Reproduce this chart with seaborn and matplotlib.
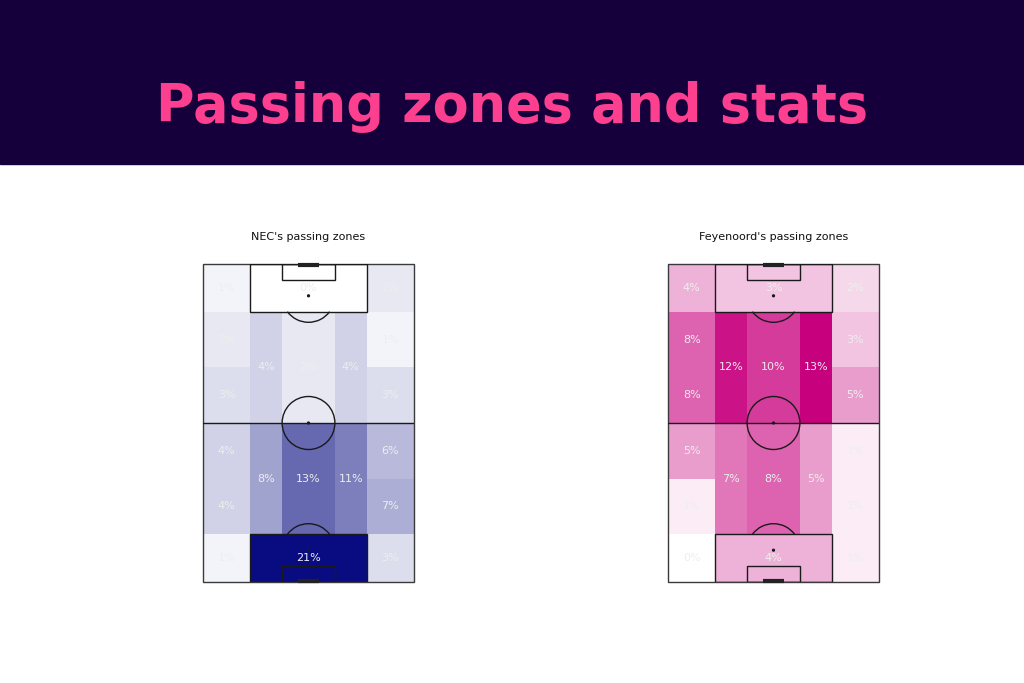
import numpy as np
import pandas as pd
import matplotlib
matplotlib.use("Agg")
import matplotlib.pyplot as plt
import seaborn as sns
from matplotlib.colors import LinearSegmentedColormap
from matplotlib.patches import Rectangle, Arc, Circle

# ---------------- data ----------------
team_names = ["NEC", "Feyenoord"]
# zone edges on a 120 x 80 yard pitch (length from own goal, width from left touchline)
len_edges = [0, 18, 39, 60, 81, 102, 120]
wid_edges = [0, 18, 30, 50, 62, 80]

# percentages of passes; wing rows go from own goal (bottom) to opponent goal (top)
nec_left_wing = [1, 4, 4, 3, 2, 1]
nec_right_wing = [3, 7, 6, 3, 1, 2]
nec_inner_own_half = [8, 13, 11]     # left half-space, centre, right half-space
nec_inner_opp_half = [4, 2, 4]
nec_boxes = [21, 0]                  # own box, opponent box

fey_left_wing = [0, 1, 5, 8, 8, 4]
fey_right_wing = [1, 1, 1, 5, 3, 2]
fey_inner_own_half = [7, 8, 5]
fey_inner_opp_half = [12, 10, 13]
fey_boxes = [4, 3]

team_colors = ["#080c80", "#c7007d"]


def build_zones(left, right, inner_own, inner_opp, boxes):
    zones = []
    for i in range(6):
        zones.append((wid_edges[0], wid_edges[1], len_edges[i], len_edges[i + 1], left[i]))
        zones.append((wid_edges[4], wid_edges[5], len_edges[i], len_edges[i + 1], right[i]))
    for j in range(3):
        zones.append((wid_edges[j + 1], wid_edges[j + 2], len_edges[1], len_edges[3], inner_own[j]))
        zones.append((wid_edges[j + 1], wid_edges[j + 2], len_edges[3], len_edges[5], inner_opp[j]))
    zones.append((wid_edges[1], wid_edges[4], len_edges[0], len_edges[1], boxes[0]))
    zones.append((wid_edges[1], wid_edges[4], len_edges[5], len_edges[6], boxes[1]))
    return zones


team_zones = [
    build_zones(nec_left_wing, nec_right_wing, nec_inner_own_half, nec_inner_opp_half, nec_boxes),
    build_zones(fey_left_wing, fey_right_wing, fey_inner_own_half, fey_inner_opp_half, fey_boxes),
]


def draw_pitch(ax):
    lc = "#1a1a1a"
    lw = 1.0
    z = 5
    ax.add_patch(Rectangle((0, 0), 80, 120, fill=False, ec="#3a3a3a", lw=lw, zorder=z, clip_on=False))
    ax.plot([0, 80], [60, 60], color=lc, lw=lw, zorder=z)
    ax.add_patch(Circle((40, 60), 10, fill=False, ec=lc, lw=lw, zorder=z))
    ax.add_patch(Circle((40, 60), 0.35, color=lc, zorder=z))
    for y0, y6, spot, t1, t2 in [(0, 0, 12, 36.87, 143.13), (102, 114, 108, 216.87, 323.13)]:
        ax.add_patch(Rectangle((18, y0), 44, 18, fill=False, ec=lc, lw=lw, zorder=z))
        ax.add_patch(Rectangle((30, y6), 20, 6, fill=False, ec=lc, lw=lw, zorder=z))
        ax.add_patch(Circle((40, spot), 0.35, color=lc, zorder=z))
        ax.add_patch(Arc((40, spot), 20, 20, theta1=t1, theta2=t2, ec=lc, lw=lw, zorder=z))
    ax.plot([36, 44], [0.4, 0.4], color="#222222", lw=3, zorder=z + 1, clip_on=False, solid_capstyle="butt")
    ax.plot([36, 44], [119.6, 119.6], color="#222222", lw=3, zorder=z + 1, clip_on=False, solid_capstyle="butt")


sns.set_style("white")
fig = plt.figure(figsize=(10.24, 6.83), dpi=100)
fig.patch.set_facecolor("white")

# banner
fig.patches.append(Rectangle((0, 1 - 164 / 683), 1, 164 / 683, transform=fig.transFigure,
                             color="#16003b", zorder=0))
title = fig.text(0.5, 1 - 122 / 683, "Passing zones and stats", ha="center", va="baseline",
                 color="#fc3f8f", fontsize=40, fontweight="bold", family=["DejaVu Sans"])
fig.canvas.draw()
w = title.get_window_extent(fig.canvas.get_renderer()).width
title.set_fontsize(40 * 712 / w)

pitch_lefts = [203, 668]
for k in range(2):
    ax = fig.add_axes([pitch_lefts[k] / 1024, 1 - 582 / 683, 211 / 1024, 318 / 683])
    grid = np.zeros((120, 80))
    for x0, x1, y0, y1, v in team_zones[k]:
        grid[y0:y1, x0:x1] = v
    vmax = max(z[4] for z in team_zones[k])
    cmap = LinearSegmentedColormap.from_list(team_names[k], ["#ffffff", team_colors[k]])
    sns.heatmap(pd.DataFrame(grid), ax=ax, cmap=cmap, vmin=0, vmax=vmax, cbar=False,
                xticklabels=False, yticklabels=False, linewidths=0, rasterized=True)
    ax.set_xlim(0, 80)
    ax.set_ylim(0, 120)
    ax.set_xlabel("")
    ax.set_ylabel("")
    for s in ax.spines.values():
        s.set_visible(False)
    draw_pitch(ax)
    for x0, x1, y0, y1, v in team_zones[k]:
        ax.text((x0 + x1) / 2, (y0 + y1) / 2, f"{v}%", ha="center", va="center",
                color="#eeeeee", fontsize=8, zorder=6)
    cx = (pitch_lefts[k] + 105.5) / 1024
    fig.text(cx, 1 - 237 / 683, f"{team_names[k]}'s passing zones", ha="center", va="center",
             fontsize=8, color="#111111")

fig.savefig("out.png", dpi=100)
